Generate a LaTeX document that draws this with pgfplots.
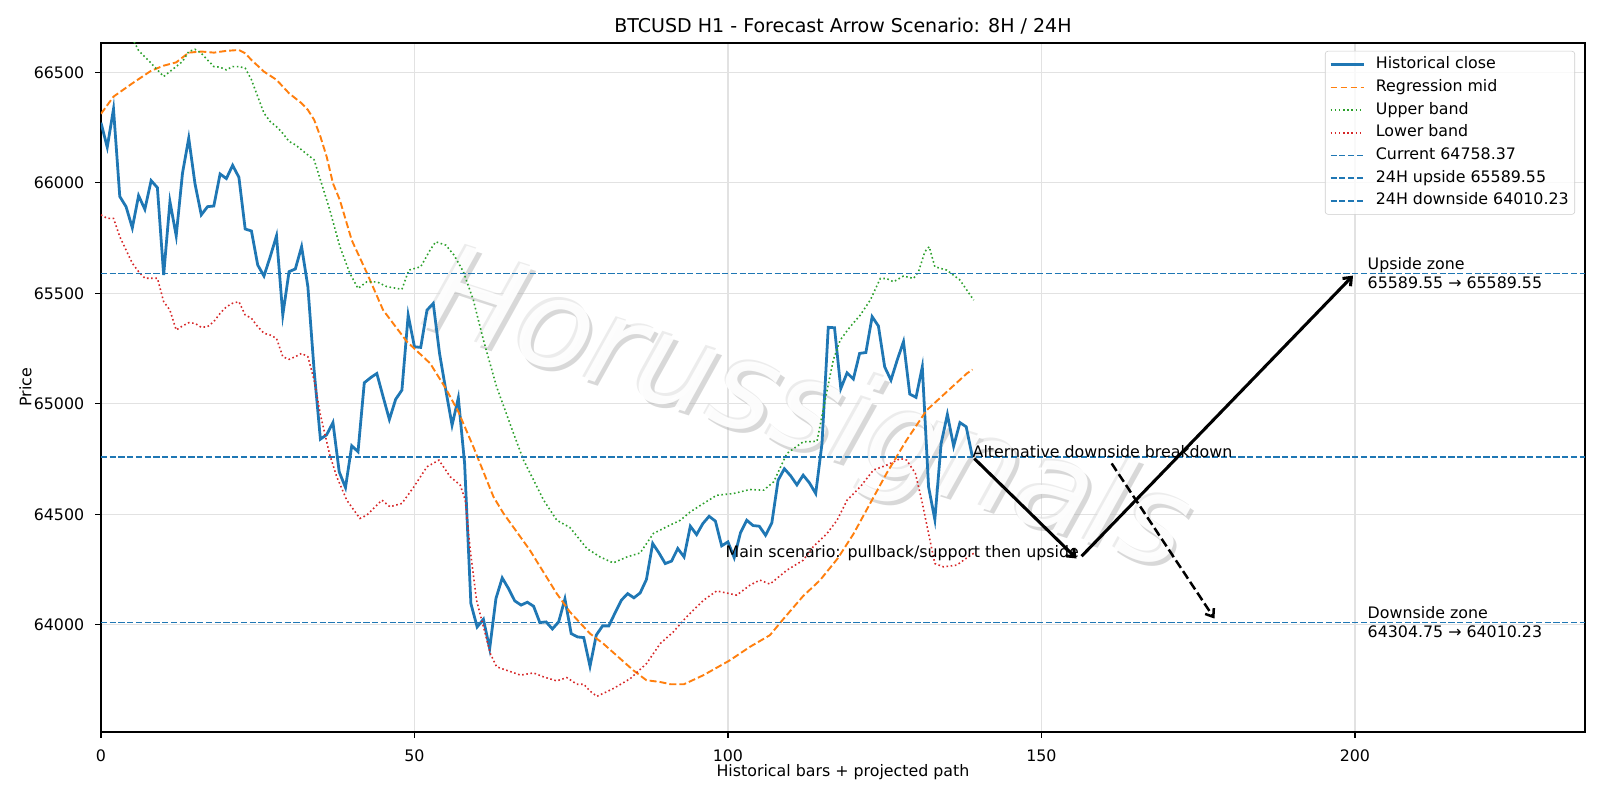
\documentclass[border=0pt]{standalone}
\usepackage{fontspec}
\setmainfont{DejaVu Sans}
\usepackage{pgfplots}
\pgfplotsset{compat=1.18}
\usetikzlibrary{arrows.meta}
\definecolor{tabblue}{HTML}{1F77B4}
\definecolor{taborange}{HTML}{FF7F0E}
\definecolor{tabgreen}{HTML}{2CA02C}
\definecolor{tabred}{HTML}{D62728}
\definecolor{gridgray}{HTML}{E2E2E2}
\definecolor{legedge}{HTML}{CCCCCC}
\newcommand{\fs}{\fontsize{11.4}{13.7}\selectfont}
\begin{document}
\begin{tikzpicture}
\path[use as bounding box] (-72.7pt,-49pt) rectangle (1079.3pt,527pt);
\begin{axis}[
  scale only axis, width=1068.5pt, height=496.1pt,
  xmin=0, xmax=236.7, ymin=63515, ymax=66633,
  scaled x ticks=false, scaled y ticks=false,
  xtick={0,50,100,150,200}, xticklabels={0,50,100,150,200},
  ytick={64000,64500,65000,65500,66000,66500},
  yticklabels={64000,64500,65000,65500,66000,66500},
  tick align=outside, tick pos=left,
  major tick length=4pt,
  every tick/.style={black, line width=0.9pt},
  axis line style={line width=0.9pt},
  grid=major, grid style={line width=0.9pt, color=gridgray},
  font=\fs,
  tick label style={font=\fs},
  xticklabel style={anchor=base, yshift=-17.3pt, inner sep=0pt},
  yticklabel style={anchor=east, inner sep=0pt, xshift=-7.9pt},
  title={BTCUSD H1 - Forecast Arrow Scenario: 8H / 24H},
  title style={at={(axis description cs:0.5,1)}, anchor=base, yshift=1.6pt, inner sep=0pt, font=\fontsize{13.7}{16}\selectfont},
  xlabel={Historical bars + projected path},
  xlabel style={at={(axis description cs:0.5,0)}, anchor=base, yshift=-32pt, inner sep=0pt},
  ylabel={Price},
  ylabel style={at={(axis description cs:0,0.5)}, anchor=center, yshift=54.4pt, inner sep=0pt},
  legend cell align=left,
  legend image code/.code={\draw[#1] (0pt,0pt) -- (23.8pt,0pt);},
  legend style={at={(axis description cs:0.99326,0.98839)}, anchor=north east,
    draw=legedge, fill=white, fill opacity=0.8, text opacity=1, rounded corners=2pt,
    font=\fs, inner xsep=2.8pt, inner ysep=3pt,
    row sep=2.6pt, column sep=6.4pt,
    nodes={inner sep=1.5pt, text height=8.3pt, text depth=2.4pt}},
]
% watermark
\node[rotate=-18, font=\fontsize{89}{89}\selectfont\itshape, text=black!30, opacity=0.5] at (axis cs:113.2,64930) {Horussignals};
\node[rotate=-18, font=\fontsize{89}{89}\selectfont\itshape, text=black!15, opacity=0.5] at (axis cs:112.3,64958) {Horussignals};
\node[rotate=-18, font=\fontsize{89}{89}\selectfont\itshape, text=white, opacity=0.93] at (axis cs:112.6,64948) {Horussignals};

\addplot[tabblue, line width=2pt] coordinates {
(0,66272) (1,66161) (2,66334) (3,65938) (4,65892) (5,65796) (6,65942) (7,65880) (8,66010) (9,65978)
(10,65583) (11,65915) (12,65760) (13,66043) (14,66202) (15,65995) (16,65855) (17,65892) (18,65895) (19,66040)
(20,66019) (21,66079) (22,66025) (23,65791) (24,65782) (25,65628) (26,65578) (27,65666) (28,65760) (29,65402)
(30,65598) (31,65610) (32,65711) (33,65530) (34,65150) (35,64840) (36,64860) (37,64915) (38,64692) (39,64621)
(40,64810) (41,64783) (42,65095) (43,65118) (44,65137) (45,65032) (46,64929) (47,65020) (48,65062) (49,65401)
(50,65258) (51,65255) (52,65424) (53,65454) (54,65228) (55,65062) (56,64903) (57,65027) (58,64730) (59,64096)
(60,63990) (61,64025) (62,63892) (63,64119) (64,64212) (65,64164) (66,64108) (67,64089) (68,64102) (69,64084)
(70,64010) (71,64013) (72,63981) (73,64013) (74,64117) (75,63960) (76,63945) (77,63942) (78,63812) (79,63953)
(80,63995) (81,63995) (82,64054) (83,64111) (84,64141) (85,64122) (86,64144) (87,64205) (88,64368) (89,64325)
(90,64277) (91,64288) (92,64345) (93,64307) (94,64446) (95,64408) (96,64458) (97,64491) (98,64469) (99,64357)
(100,64375) (101,64304) (102,64416) (103,64473) (104,64449) (105,64446) (106,64405) (107,64461) (108,64654) (109,64706)
(110,64674) (111,64633) (112,64677) (113,64642) (114,64594) (115,64820) (116,65346) (117,65344) (118,65069) (119,65140)
(120,65112) (121,65228) (122,65232) (123,65394) (124,65352) (125,65167) (126,65107) (127,65198) (128,65281) (129,65044)
(130,65029) (131,65167) (132,64624) (133,64476) (134,64820) (135,64952) (136,64808) (137,64915) (138,64896) (139,64758.37)
};
\addlegendentry{Historical close}

\addplot[taborange, line width=1.37pt, dash pattern=on 5pt off 2.2pt] coordinates {
(0,66312) (2,66390) (5,66450) (8,66507) (10,66530) (12,66545) (14,66589) (16,66594) (18,66589) (20,66597)
(22,66601) (23,66586) (24,66556) (26,66503) (28,66466) (30,66405) (32,66360) (33,66330) (34,66285) (35,66209)
(36,66118) (37,65998) (38.1,65922) (40,65740) (42.4,65593) (45,65424) (48.8,65281) (52.5,65183) (55,65069) (57,64964)
(59.4,64805) (62.6,64579) (64.2,64504) (68.4,64338) (72.7,64141) (74.8,64058) (78,63960) (80.1,63915) (84.9,63794) (87,63749)
(89.2,63741) (90.8,63731) (93,63731) (96.1,63772) (100.3,63839) (103.5,63900) (106.7,63953) (108.9,64028) (112,64130) (114.7,64202)
(117.5,64300) (120,64410) (122.1,64519) (125.3,64685) (128.5,64836) (131.7,64971) (134.9,65054) (138.1,65137) (139,65155)
};
\addlegendentry{Regression mid}

\addplot[tabgreen, line width=1.14pt, dash pattern=on 1.14pt off 1.88pt] coordinates {
(0,66880) (2,66790) (4,66700) (5.4,66632) (6,66598) (8,66541) (10,66481) (12,66526) (13,66549) (14,66594)
(15,66604) (16,66586) (17,66556) (18,66526) (19,66523) (20,66511) (21,66526) (22,66526) (23,66519) (24,66466)
(25,66390) (26,66315) (27,66277) (28,66254) (29,66224) (30,66187) (31,66172) (32,66149) (33,66126) (34,66104)
(35,66013) (36,65923) (36.5,65877) (38.1,65711) (39.7,65590) (41,65522) (42.4,65552) (44,65552) (45.6,65530) (48,65518)
(49.1,65605) (51,65620) (52.5,65696) (53.4,65733) (55,65718) (56.3,65673) (57.8,65598) (59.4,65469) (61,65288) (63.1,65077)
(65.8,64866) (67.4,64745) (70.6,64564) (72.7,64473) (74.8,64440) (77.5,64345) (79.6,64307) (81.7,64280) (83.9,64307) (86,64325)
(88.1,64413) (90.2,64443) (92.4,64473) (94,64511) (96.1,64549) (98.2,64586) (100.9,64594) (103.5,64612) (105.7,64609) (107.3,64647)
(109.4,64775) (112,64828) (114.2,64830) (115.5,65017) (116.8,65198) (117.9,65288) (119.5,65349) (121.1,65401) (122.7,65469) (124.3,65567)
(125.3,65567) (126.4,65552) (128,65578) (129.6,65567) (130.4,65598) (131.4,65688) (132.1,65711) (133,65620) (134.9,65605) (137,65560)
(139.2,65469)
};
\addlegendentry{Upper band}

\addplot[tabred, line width=1.14pt, dash pattern=on 1.14pt off 1.88pt] coordinates {
(0,65855) (1,65839) (2,65839) (3,65756) (4,65696) (5,65636) (6,65598) (7,65568) (9,65568) (10,65462)
(11,65424) (12,65334) (13,65352) (14,65367) (15,65364) (16,65346) (17,65349) (18,65372) (19,65409) (20,65439)
(21,65455) (22,65462) (23,65402) (24,65387) (25,65349) (26,65319) (27,65311) (28,65296) (29,65213) (30,65201)
(31,65213) (32,65228) (33,65213) (34,65107) (35,64950) (36.5,64768) (37.6,64670) (39.2,64564) (41.3,64481) (42.4,64496)
(44.8,64564) (46.1,64534) (48,64549) (49.9,64624) (52,64715) (53.9,64745) (55.7,64670) (57.3,64632) (58.1,64564) (58.9,64338)
(59.9,64111) (61,63991) (62.1,63870) (63.1,63810) (65.4,63787) (66.9,63772) (69,63782) (70.6,63764) (72.7,63746) (74.3,63761)
(75.9,63731) (77,63731) (78,63700) (79.1,63676) (81.7,63711) (84.4,63756) (87,63824) (89.2,63915) (91.3,63968) (93.4,64036)
(96.1,64111) (98.2,64153) (101.4,64134) (103.5,64179) (105.1,64202) (106.7,64184) (109.4,64247) (112,64292) (113.6,64353) (115.8,64413)
(117.4,64473) (119,64564) (121.1,64624) (123.2,64700) (125.3,64722) (127.5,64752) (128.5,64745) (129.9,64685) (130.9,64564) (132,64413)
(133,64277) (134.4,64262) (136.5,64270) (138.7,64315) (139.2,64323)
};
\addlegendentry{Lower band}

\addplot[tabblue, line width=1.2pt, dash pattern=on 4.4pt off 1.9pt] coordinates {(0,64758.37) (236.7,64758.37)};
\addlegendentry{Current 64758.37}
\addplot[tabblue, line width=1.2pt, dash pattern=on 4.4pt off 1.9pt] coordinates {(0,65589.55) (236.7,65589.55)};
\addlegendentry{24H upside 65589.55}
\addplot[tabblue, line width=1.2pt, dash pattern=on 4.4pt off 1.9pt] coordinates {(0,64010.23) (236.7,64010.23)};
\addlegendentry{24H downside 64010.23}

% scenario arrows
\addplot[forget plot, black, line width=2.2pt, -{Straight Barb[length=5pt,width=8pt]}] coordinates {(139.3,64752) (155.6,64300)};
\addplot[forget plot, black, line width=2.2pt, -{Straight Barb[length=5pt,width=8pt]}] coordinates {(156.4,64310) (199.7,65580)};
\addplot[forget plot, black, line width=1.8pt, dash pattern=on 6.5pt off 2.8pt, -{Straight Barb[length=5pt,width=7.5pt]}] coordinates {(161.2,64730) (177.6,64028)};

\node[anchor=base west, inner sep=0pt, font=\fs] at (axis cs:139,64758.37) {Alternative downside breakdown};
\node[anchor=base east, inner sep=0pt, font=\fs] at (axis cs:156,64304.75) {Main scenario: pullback/support then upside};
\node[anchor=west, align=left, inner sep=0pt, font=\fs] at (axis cs:202,65589.55) {Upside zone\\65589.55 → 65589.55};
\node[anchor=west, align=left, inner sep=0pt, font=\fs] at (axis cs:202,64010.23) {Downside zone\\64304.75 → 64010.23};
\end{axis}
\end{tikzpicture}
\end{document}
